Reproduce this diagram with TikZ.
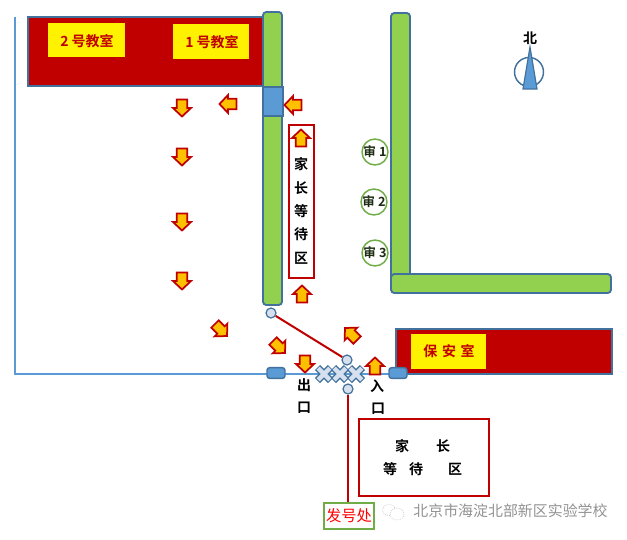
\documentclass[tikz,border=0pt]{standalone}
\usepackage{fontspec}
\setmainfont{Liberation Serif}
\newfontfamily\cjk{Noto Sans CJK SC}[BoldFont={Noto Sans CJK SC Bold}]
\definecolor{wallblue}{HTML}{41719C}
\definecolor{lineblue}{HTML}{5B9BD5}
\definecolor{wallgreen}{HTML}{92D050}
\definecolor{darkred}{HTML}{C00000}
\definecolor{okgreen}{HTML}{70AD47}
\definecolor{arrowfill}{HTML}{FFC000}
\definecolor{pale}{HTML}{D6E0EE}
\tikzset{
  x=0.75pt,y=-0.75pt,
  room/.style={draw=wallblue,line width=1.7pt,fill=darkred},
  wall/.style={draw=wallblue,line width=1.4pt,fill=wallgreen,rounded corners=2.5pt},
  sign/.style={fill=yellow},
  signtext/.style={font=\cjk\bfseries\fontsize{10.5}{12}\selectfont,text=darkred,inner sep=0pt},
  blk/.style={font=\cjk\bfseries\fontsize{10.5}{12}\selectfont,text=black,inner sep=0pt},
  redbox/.style={draw=darkred,line width=1.5pt,fill=none},
  audit/.style={circle,draw=okgreen,line width=1.1pt,fill=white,minimum size=19pt,inner sep=0pt,font=\cjk\bfseries\fontsize{9.5}{11}\selectfont,text=black!75!okgreen},
  hinge/.style={circle,draw=wallblue,line width=0.9pt,fill=pale,minimum size=7.5pt,inner sep=0pt},
  gate/.style={draw=wallblue,line width=1.1pt,fill=lineblue,rounded corners=2pt,minimum width=13.5pt,minimum height=8pt,inner sep=0pt},
  flow/.style={draw=darkred,line width=1.3pt,fill=arrowfill,line join=miter,miter limit=3},
  conn/.style={draw=darkred,line width=1.5pt},
  pics/flowarrow/.style={code={
    \path[flow] (0,-8.5)--(9,0)--(5.2,0)--(5.2,8.5)--(-5.2,8.5)--(-5.2,0)--(-9,0)--cycle;
  }}
}
\begin{document}
\begin{tikzpicture}
\useasboundingbox (0,0) rectangle (627,539);
\fill[white] (0,0) rectangle (627,539);
% boundary line
\draw[lineblue,line width=1.3pt] (15,17)--(15,374)--(392,374);
% rooms
\path[room] (28,17) rectangle (263,86);
\path[room] (396,329) rectangle (612,374);
\path[sign] (48,23) rectangle (125,57);
\path[sign] (173,24) rectangle (249,59);
\path[sign] (411,334) rectangle (486,369);
\node[signtext] (c2) at (87,41) {2 号教室};
\node[signtext] (c1) at (212,42) {1 号教室};
\node[signtext] (sec) at (449,351) {保\,\,安\,\,室};
% walls
\path[wall] (263,12) rectangle (282,305);
\path[draw=wallblue,line width=1.4pt,fill=lineblue] (263,87) rectangle (283,116);
\path[wall] (391,13) rectangle (410,282);
\path[wall] (391,274) rectangle (611,293);
% parent box
\path[redbox] (289,125) rectangle (314,278);
\node[blk] (p1) at (301,164) {家};
\node[blk] (p2) at (301,188) {长};
\node[blk] (p3) at (301,211) {等};
\node[blk] (p4) at (301,234) {待};
\node[blk] (p5) at (301,258) {区};
% audit
\node[audit] (a1) at (375,152) {审 1};
\node[audit] (a2) at (374,202) {审 2};
\node[audit] (a3) at (375,253) {审 3};
% north
\draw[wallblue,line width=1.1pt] (529,72) circle (14.5);
\path[draw=wallblue,line width=0.9pt,fill=lineblue] (530,47)--(537,89)--(523,89)--cycle;
\node[blk] (north) at (530,38) {北};
% gate parts
\foreach \cx in {324,340,356}{
  \draw[wallblue,line width=5.4pt] (\cx-6.5,367.5)--(\cx+6.5,380.5) (\cx-6.5,380.5)--(\cx+6.5,367.5);
  \draw[pale,line width=3.4pt] (\cx-5.8,368.2)--(\cx+5.8,379.8) (\cx-5.8,379.8)--(\cx+5.8,368.2);
}
\node[gate] (g1) at (276,373) {};
\node[gate] (g2) at (398,373) {};
\node[hinge] (h1) at (271,313) {};
\node[hinge] (h2) at (347,360) {};
\node[hinge] (h3) at (348,389) {};
% lower parent box
\path[redbox] (359,419) rectangle (489,496);
\node[blk] (q1) at (402,446) {家};
\node[blk] (q2) at (443,446) {长};
\node[blk] (q3) at (390,469) {等};
\node[blk] (q4) at (416,469) {待};
\node[blk] (q5) at (455,469) {区};
% issue desk
\node[draw=okgreen,line width=1.5pt,fill=white,minimum width=38pt,minimum height=19.5pt,inner sep=0pt,font=\cjk\fontsize{11.5}{13}\selectfont,text=red] (desk) at (349,515.5) {发号处};
\draw[conn] (h1)--(h2);
\draw[conn] (h3)--(h3|-desk.north);
% exit / entry
\node[blk] (o1) at (304,385) {出};
\node[blk] (o2) at (304,408) {口};
\node[blk] (i1) at (377,386) {入};
\node[blk] (i2) at (378,409) {口};
% flow arrows
\foreach \px/\py/\ang in {182/108/180,182/157/180,182/222/180,182/281/180,228/104/-90,293/105/-90,301/138/0,302/294/0,221/330/135,279/347/135,305/364/180,351/334/-45,375/366/0}{
  \pic[rotate=-\ang] at (\px,\py) {flowarrow};
}
% watermark
\begin{scope}[gray!40,line width=0.6pt,densely dotted]
\draw (389,510) ellipse (6.5 and 5.5);
\draw[fill=white] (397,514) ellipse (7 and 6);
\end{scope}
\node[font=\cjk\fontsize{11.2}{12}\selectfont,text=gray!85,inner sep=0pt] (mark) at (510.5,511) {北京市海淀北部新区实验学校};
\end{tikzpicture}
\end{document}
